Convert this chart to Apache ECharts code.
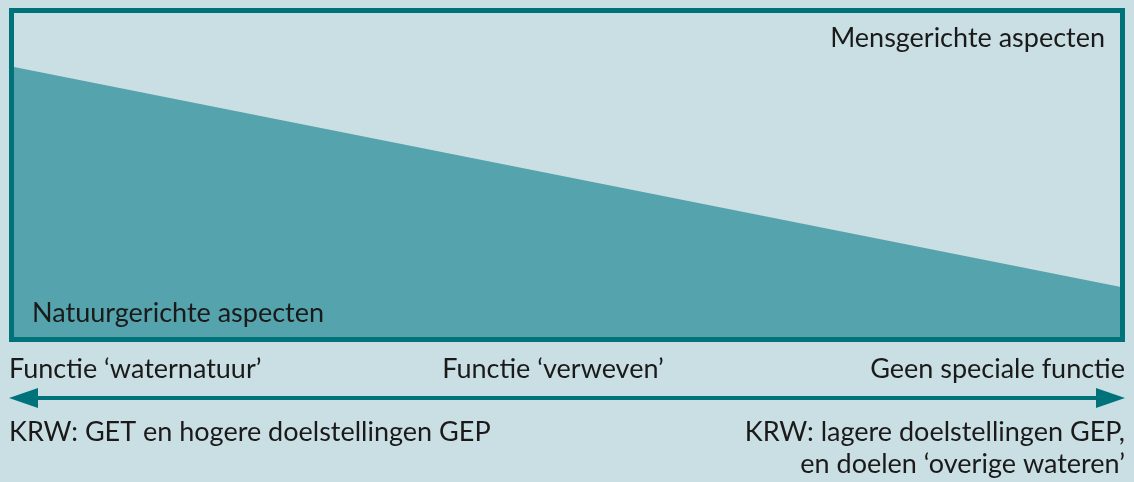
<!DOCTYPE html>
<html>
<head>
<meta charset="UTF-8">
<title></title>
<script src="https://cdn.jsdelivr.net/npm/echarts@6/dist/echarts.min.js"></script>
<style>
  html, body { margin: 0; padding: 0; background: #cadfe4; }
</style>
</head>
<body>
<div id="container" style="width:1134px;height:482px;"></div>
<script>
    // aandeel natuurgerichte aspecten, van links (waternatuur) naar rechts
    var positions = [0, 1];
    var natuurShare = [83.3, 15.4];

    var topRight = 'Mensgerichte aspecten';
    var bottomLeft = 'Natuurgerichte aspecten';
    var functies = ['Functie \u2018waternatuur\u2019', 'Functie \u2018verweven\u2019', 'Geen speciale functie'];
    var krwLeft = 'KRW: GET en hogere doelstellingen GEP';
    var krwRight = ['KRW: lagere doelstellingen GEP,', 'en doelen \u2018overige wateren\u2019'];

    var dark = '#00727a';
    var font = 'Lato';
    var txt = function (x, y, text, align) {
        return {
            type: 'text', x: x, y: y, z: 10,
            style: { text: text, fill: '#1a1a1a', font: '27px ' + font, align: align, verticalAlign: 'top' }
        };
    };

    var chart = echarts.init(document.getElementById('container'));
    chart.setOption({
        backgroundColor: '#cadfe4',
        animation: false,
        grid: { left: 14, right: 13, top: 13, bottom: 145, show: false },
        xAxis: { type: 'value', min: 0, max: 1, show: false },
        yAxis: { type: 'value', min: 0, max: 100, show: false },
        series: [{
            type: 'line',
            data: positions.map(function (p, i) { return [p, natuurShare[i]]; }),
            symbol: 'none',
            lineStyle: { width: 0 },
            areaStyle: { color: '#55a3ad', opacity: 1 }
        }],
        graphic: [
            { type: 'rect', shape: { x: 11.5, y: 10.5, width: 1111, height: 329 },
              style: { fill: null, stroke: dark, lineWidth: 5 }, z: 5 },
            { type: 'line', shape: { x1: 36, y1: 398, x2: 1098, y2: 398 },
              style: { stroke: dark, lineWidth: 4 }, z: 5 },
            { type: 'polygon', shape: { points: [[9, 398], [38, 388], [38, 408]] },
              style: { fill: dark }, z: 5 },
            { type: 'polygon', shape: { points: [[1125, 398], [1096, 388], [1096, 408]] },
              style: { fill: dark }, z: 5 },
            txt(1105, 25, topRight, 'right'),
            txt(32, 300, bottomLeft, 'left'),
            txt(9, 356, functies[0], 'left'),
            txt(553, 356, functies[1], 'center'),
            txt(1125, 356, functies[2], 'right'),
            txt(9, 419, krwLeft, 'left'),
            txt(1125, 419, krwRight[0], 'right'),
            txt(1125, 451, krwRight[1], 'right')
        ]
    });
</script>
</body>
</html>
